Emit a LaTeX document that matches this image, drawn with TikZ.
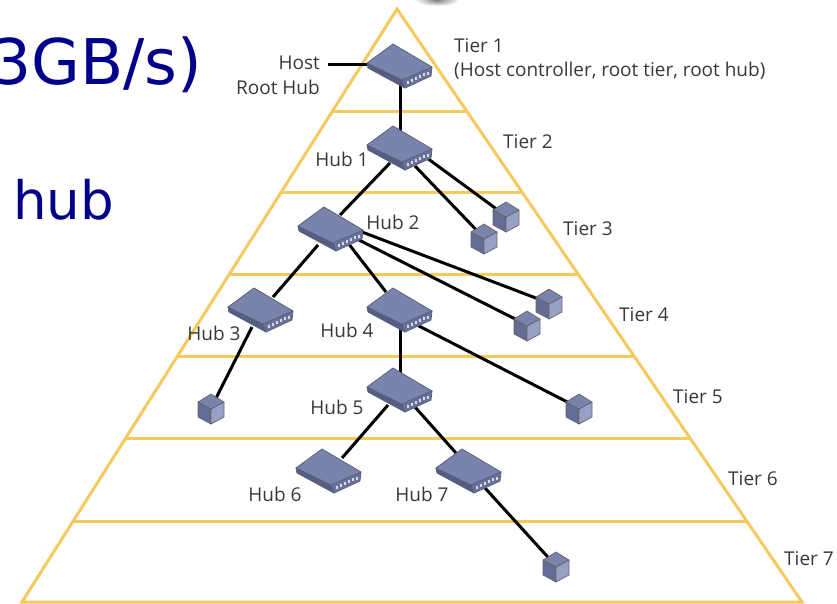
\documentclass[tikz,border=0pt]{standalone}
\usepackage{fontspec}
\setmainfont{Open Sans}
\newfontfamily\slidefont{DejaVu Sans}
\definecolor{tierline}{HTML}{F6C95F}
\definecolor{slideblue}{HTML}{00008B}
\definecolor{hubtop}{HTML}{7A83AB}
\definecolor{hubside}{HTML}{555D80}
\definecolor{hubfront}{HTML}{6A7297}
\definecolor{hubedge}{HTML}{596182}
\definecolor{cubeleft}{HTML}{626C94}
\definecolor{cuberight}{HTML}{97A1C8}
\tikzset{
    tierline/.style={draw=tierline, line width=3pt, line join=miter},
    wire/.style={draw=black, line width=3pt},
    tierlabel/.style={anchor=west, inner sep=0pt, font=\fontsize{19}{22}\selectfont, text=black!78},
    hublabel/.style={anchor=center, inner sep=0pt, font=\fontsize{19}{22}\selectfont, text=black!78},
    slidetext/.style={anchor=west, inner sep=0pt, text=slideblue},
    hubbox/.pic={
        \filldraw[fill=hubside, draw=hubedge, line join=round, line width=.8pt] (-33,-3) -- (-32,2) -- (5,22) -- (2,14) -- cycle;
        \filldraw[fill=hubfront, draw=hubedge, line join=round, line width=.8pt] (2,14) -- (5,22) -- (31,10) -- (32,1) -- cycle;
        \filldraw[fill=hubtop, draw=hubedge, line join=round, line width=.8pt] (-33,-3) -- (-7,-22) -- (32,1) -- (2,14) -- cycle;
        \foreach \p in {0,1,2,3,4,5} {
            \fill[white!70!hubtop] (7+3.9*\p,17.6-1.8*\p) rectangle ++(2.2,-3);
        }
    },
    devcube/.pic={
        \filldraw[fill=cubeleft, draw=gray!80!black, line join=round, line width=.7pt] (-13,-6) -- (0,1) -- (0,16) -- (-13,9) -- cycle;
        \filldraw[fill=cuberight, draw=gray!80!black, line join=round, line width=.7pt] (13,-6) -- (0,1) -- (0,16) -- (13,9) -- cycle;
        \filldraw[fill=hubtop, draw=gray!80!black, line join=round, line width=.7pt] (-13,-6) -- (0,-14) -- (13,-6) -- (0,1) -- cycle;
    }
}
\begin{document}
\begin{tikzpicture}[x=1pt,y=-1pt]
    \useasboundingbox (0,0) rectangle (837,603);

    % 1. slide text behind the picture
    \node[slidetext, font=\slidefont\fontsize{63}{63}\selectfont] (speed) at (-9,65) {3GB/s)};
    \node[slidetext, font=\slidefont\fontsize{53}{53}\selectfont] (hubword) at (13,200) {hub};
    \shade[inner color=gray, outer color=white] (437,0) ellipse (22 and 6);

    % 2. pyramid and tier lines
    \draw[tierline] (22,602) -- (397,9) -- (802,602) -- cycle;
    \foreach \y/\xa/\xb in {111/333/467,192/281/522,274/229/578,356/178/634,438/126/690,521/73/747} {
        \draw[tierline] (\xa,\y) -- (\xb,\y);
    }

    % 3. positions of hubs and devices
    \coordinate (root) at (400,66);
    \coordinate (hub1) at (400,148);
    \coordinate (hub2) at (331,229);
    \coordinate (hub3) at (261,310);
    \coordinate (hub4) at (400,310);
    \coordinate (hub5) at (400,390);
    \coordinate (hub6) at (329,471);
    \coordinate (hub7) at (469,471);
    \coordinate (devA) at (506,216);
    \coordinate (devB) at (484,238);
    \coordinate (devC) at (549,303);
    \coordinate (devD) at (527,325);
    \coordinate (devE) at (211,408);
    \coordinate (devF) at (579,408);
    \coordinate (devG) at (556,566);
    \coordinate (hostend) at (328,64);

    % 4. wires
    \draw[wire] (hostend) -- (root |- hostend);
    \draw[wire] (root) -- (hub1);
    \draw[wire] ([shift={(-10,15)}]hub1) -- ([shift={(9,-14)}]hub2);
    \draw[wire] ([shift={(27,10)}]hub1) -- (devA);
    \draw[wire] ([shift={(15,18)}]hub1) -- (devB);
    \draw[wire] ([shift={(-13,16)}]hub2) -- ([shift={(12,-13)}]hub3);
    \draw[wire] ([shift={(17,14)}]hub2) -- ([shift={(-14,-18)}]hub4);
    \draw[wire] ([shift={(31,3)}]hub2) -- (devC);
    \draw[wire] ([shift={(24,9)}]hub2) -- (devD);
    \draw[wire] ([shift={(-9,17)}]hub3) -- (devE);
    \draw[wire] ([shift={(17,15)}]hub4) -- (devF);
    \draw[wire] (hub4) -- (hub5);
    \draw[wire] ([shift={(-12,15)}]hub5) -- ([shift={(13,-13)}]hub6);
    \draw[wire] ([shift={(15,17)}]hub5) -- ([shift={(-13,-18)}]hub7);
    \draw[wire] ([shift={(16,17)}]hub7) -- (devG);

    % 5. hub and device icons
    \foreach \h in {root,hub1,hub2,hub3,hub4,hub5,hub6,hub7} {
        \pic at (\h) {hubbox};
    }
    \foreach \d in {devA,devB,devC,devD,devE,devF,devG} {
        \pic at (\d) {devcube};
    }

    % 6. labels
    \node[hublabel, anchor=east] (hostlabel) at (320,63) {Host};
    \node[hublabel, anchor=east] (rootlabel) at (320,87) {Root Hub};
    \node[hublabel] (lab1) at (342,159) {Hub 1};
    \node[hublabel] (lab2) at (393,222) {Hub 2};
    \node[hublabel] (lab3) at (214,333) {Hub 3};
    \node[hublabel] (lab4) at (347,330) {Hub 4};
    \node[hublabel] (lab5) at (337,407) {Hub 5};
    \node[hublabel] (lab6) at (275,494) {Hub 6};
    \node[hublabel] (lab7) at (422,494) {Hub 7};
    \node[tierlabel] (tier1) at (454,46) {Tier 1};
    \node[tierlabel] (tier1b) at (454,71) {(Host controller, root tier, root hub)};
    \node[tierlabel] (tier2) at (503,142) {Tier 2};
    \node[tierlabel] (tier3) at (563,229) {Tier 3};
    \node[tierlabel] (tier4) at (619,315) {Tier 4};
    \node[tierlabel] (tier5) at (673,397) {Tier 5};
    \node[tierlabel] (tier6) at (728,479) {Tier 6};
    \node[tierlabel] (tier7) at (784,559) {Tier 7};
\end{tikzpicture}
\end{document}
